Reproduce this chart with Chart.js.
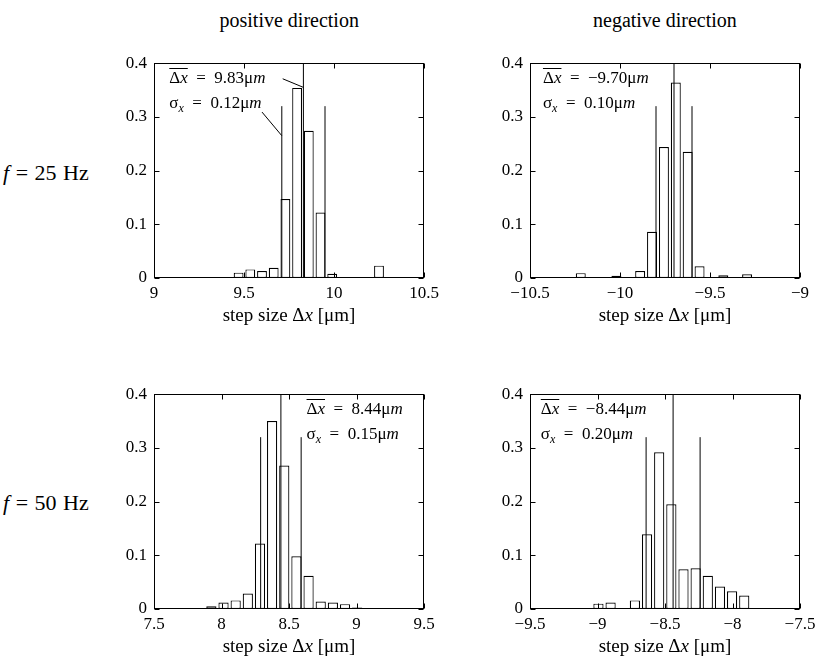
<!DOCTYPE html>
<html><head><meta charset="utf-8">
<script src="https://cdn.jsdelivr.net/npm/chart.js@4/dist/chart.umd.min.js"></script>
<style>
html,body{margin:0;padding:0;background:#fff;}
body{width:816px;height:666px;position:relative;overflow:hidden;font-family:"Liberation Serif",serif;color:#000;}
.lbl{position:absolute;white-space:nowrap;line-height:1;font-family:"Liberation Serif",serif;}
.panel{position:absolute;}
</style></head><body>
<div class="lbl" id="t1" style="font-size:20px;">positive direction</div>
<div class="lbl" id="t2" style="font-size:20px;">negative direction</div>
<div class="lbl" id="r1" style="font-size:22px;word-spacing:1px;"><i>f</i> = 25 Hz</div>
<div class="lbl" id="r2" style="font-size:22px;word-spacing:1px;"><i>f</i> = 50 Hz</div>
<div class="panel" id="p1"><canvas id="c1"></canvas></div>
<div class="panel" id="p2"><canvas id="c2"></canvas></div>
<div class="panel" id="p3"><canvas id="c3"></canvas></div>
<div class="panel" id="p4"><canvas id="c4"></canvas></div>
<script>
// ---------- data ----------
const columnTitles = ['positive direction', 'negative direction'];
const xAxisTitle = 'step size Δx [μm]';
const yTicks = [0, 0.1, 0.2, 0.3, 0.4];

const pos25Bins = [9.405, 9.470, 9.535, 9.600, 9.665, 9.730, 9.795, 9.860, 9.925, 9.990, 10.055, 10.120, 10.185, 10.250];
const pos25Freq = [0.002, 0.010, 0.016, 0.013, 0.019, 0.147, 0.354, 0.274, 0.122, 0.008, 0.001, 0.002, 0.002, 0.023];

const neg25Bins = [-10.218, -10.152, -10.086, -10.020, -9.954, -9.888, -9.822, -9.756, -9.690, -9.624, -9.558, -9.492, -9.426, -9.360, -9.294];
const neg25Freq = [0.009, 0.000, 0.002, 0.004, 0.001, 0.013, 0.086, 0.244, 0.364, 0.235, 0.022, 0.002, 0.005, 0.001, 0.007];

const pos50Bins = [7.745, 7.835, 7.925, 8.015, 8.105, 8.195, 8.285, 8.375, 8.465, 8.555, 8.645, 8.735, 8.825, 8.915, 9.005];
const pos50Freq = [0.001, 0.001, 0.005, 0.012, 0.016, 0.029, 0.122, 0.350, 0.267, 0.098, 0.062, 0.014, 0.012, 0.009, 0.003];

const neg50Bins = [-8.993, -8.903, -8.813, -8.723, -8.633, -8.543, -8.453, -8.363, -8.273, -8.183, -8.093, -8.003, -7.913, -7.823];
const neg50Freq = [0.010, 0.012, 0.000, 0.016, 0.139, 0.292, 0.195, 0.074, 0.076, 0.062, 0.042, 0.033, 0.025, 0.002];

const xRanges = [[9, 10.5], [-10.5, -9], [7.5, 9.5], [-9.5, -7.5]];
const means  = [9.83, -9.70, 8.44, -8.44];
const sigmas = [0.12, 0.10, 0.15, 0.20];
const meanLabels  = ['9.83', '−9.70', '8.44', '−8.44'];
const sigmaLabels = ['0.12', '0.10', '0.15', '0.20'];
const sigmaLineHeight = 0.32;

// ---------- layout ----------
const PW = 270, PH = 220, YW = 45, XH = 62, PT = 12, PR = 25;
const plotPos = [[154, 58], [530, 58], [154, 389], [530, 389]];
const FONT = '"Liberation Serif", serif';

function place(id, left, top) { const e = document.getElementById(id); e.style.left = left + 'px'; e.style.top = top + 'px'; return e; }
(function () {
  const t1 = place('t1', 0, 10), t2 = place('t2', 0, 10);
  t1.style.left = (plotPos[0][0] + PW / 2 - t1.offsetWidth / 2) + 'px';
  t2.style.left = (plotPos[1][0] + PW / 2 - t2.offsetWidth / 2) + 'px';
  place('r1', 3, 162); place('r2', 3, 492);
})();

function fmt(v) {
  const r = Math.round(v * 100) / 100;
  if (r === 0) return '0';
  return (r < 0 ? '−' : '') + String(Math.abs(r));
}

function drawRich(ctx, parts, x, y, size, overlineCount, align) {
  const fontN = size + 'px ' + FONT, fontI = 'italic ' + size + 'px ' + FONT, fontS = 'italic ' + Math.round(size * 0.72) + 'px ' + FONT;
  const widths = parts.map(p => { ctx.font = p.sub ? fontS : (p.i ? fontI : fontN); return ctx.measureText(p.t).width; });
  const total = widths.reduce((a, b) => a + b, 0);
  let cx = align === 'center' ? x - total / 2 : x;
  const start = cx;
  let olEnd = cx;
  ctx.textBaseline = 'middle'; ctx.textAlign = 'left';
  parts.forEach((p, k) => {
    ctx.font = p.sub ? fontS : (p.i ? fontI : fontN);
    ctx.fillText(p.t, cx, p.sub ? y + size * 0.3 : y);
    cx += widths[k];
    if (k < (overlineCount || 0)) olEnd = cx;
  });
  if (overlineCount) {
    ctx.beginPath(); ctx.lineWidth = 1;
    const oy = Math.round(y - size * 0.62) + 0.5;
    ctx.moveTo(start, oy); ctx.lineTo(olEnd, oy); ctx.stroke();
  }
}

const annotCfg = {};

const framePlugin = {
  id: 'frame',
  afterDraw(chart) {
    const { ctx, chartArea: a, scales: { x, y } } = chart;
    ctx.save();
    ctx.strokeStyle = '#000'; ctx.lineWidth = 1;
    const l = Math.round(a.left) + 0.5, r = Math.round(a.right) - 0.5, t = Math.round(a.top) + 0.5, b = Math.round(a.bottom) - 0.5;
    ctx.strokeRect(l, t, r - l, b - t);
    ctx.beginPath();
    x.ticks.forEach(tk => { const px = Math.round(x.getPixelForValue(tk.value)) + 0.5; ctx.moveTo(px, b); ctx.lineTo(px, b - 5); ctx.moveTo(px, t); ctx.lineTo(px, t + 5); });
    y.ticks.forEach(tk => { const py = Math.round(y.getPixelForValue(tk.value)) + 0.5; ctx.moveTo(l, py); ctx.lineTo(l + 5, py); ctx.moveTo(r, py); ctx.lineTo(r - 5, py); });
    ctx.stroke();
    // axis title
    ctx.fillStyle = '#000';
    drawRich(ctx, [{ t: 'step size Δ' }, { t: 'x', i: true }, { t: ' [μm]' }], (a.left + a.right) / 2, a.bottom + 38, 19, 0, 'center');
    ctx.restore();
  }
};

const annotPlugin = {
  id: 'annot',
  afterDatasetsDraw(chart) {
    const cfg = annotCfg[chart.canvas.id];
    if (!cfg) return;
    const { ctx, scales: { x, y } } = chart;
    ctx.save();
    ctx.fillStyle = '#000'; ctx.strokeStyle = '#000'; ctx.lineWidth = 1;
    cfg.texts.forEach(t => drawRich(ctx, t.parts, x.getPixelForValue(t.x), y.getPixelForValue(t.y), 17, t.ol, 'left'));
    cfg.pointers.forEach(p => {
      ctx.beginPath();
      ctx.moveTo(x.getPixelForValue(p[0]), y.getPixelForValue(p[1]));
      ctx.lineTo(x.getPixelForValue(p[2]), y.getPixelForValue(p[3]));
      ctx.stroke();
    });
    ctx.restore();
  }
};

function makePanel(k, bins, freq, textX, pointers) {
  const [L, T] = plotPos[k];
  const cid = 'c' + (k + 1);
  const div = document.getElementById('p' + (k + 1));
  const W = YW + PW + PR, H = PT + PH + XH;
  div.style.left = (L - YW) + 'px'; div.style.top = (T - PT) + 'px';
  div.style.width = W + 'px'; div.style.height = H + 'px';
  const cv = document.getElementById(cid);
  cv.width = W; cv.height = H; cv.style.width = W + 'px'; cv.style.height = H + 'px';

  const m = means[k], s = sigmas[k];
  annotCfg[cid] = {
    texts: [
      { x: textX, y: 0.372, ol: 2, parts: [{ t: 'Δ' }, { t: 'x', i: true }, { t: '  =  ' + meanLabels[k] + 'μ' }, { t: 'm', i: true }] },
      { x: textX, y: 0.324, ol: 0, parts: [{ t: 'σ' }, { t: 'x', i: true, sub: true }, { t: '  =  ' + sigmaLabels[k] + 'μ' }, { t: 'm', i: true }] }
    ],
    pointers: pointers
  };

  const lineStyle = { type: 'line', borderColor: '#000', borderWidth: 1, pointRadius: 0, fill: false, tension: 0, order: 1 };
  new Chart(cv, {
    type: 'bar',
    data: {
      datasets: [
        Object.assign({ label: 'mean', data: [{ x: m, y: 0 }, { x: m, y: 0.4 }] }, lineStyle),
        Object.assign({ label: 'mean - sigma', data: [{ x: m - s, y: 0 }, { x: m - s, y: sigmaLineHeight }] }, lineStyle),
        Object.assign({ label: 'mean + sigma', data: [{ x: m + s, y: 0 }, { x: m + s, y: sigmaLineHeight }] }, lineStyle),
        {
          type: 'bar', label: 'frequency', order: 2,
          data: bins.map((b, i) => ({ x: b, y: freq[i] })),
          backgroundColor: '#fff', borderColor: '#000', borderWidth: 1.2, borderSkipped: false,
          categoryPercentage: 1, barPercentage: 0.84
        }
      ]
    },
    options: {
      responsive: false, animation: false, devicePixelRatio: 1,
      layout: { padding: { left: 0, top: PT, right: PR, bottom: 0 } },
      plugins: { legend: { display: false }, tooltip: { enabled: false } },
      scales: {
        x: {
          type: 'linear', min: xRanges[k][0], max: xRanges[k][1], offset: false,
          grid: { display: false, drawTicks: false, offset: false }, border: { display: false },
          ticks: { stepSize: 0.5, padding: 5, color: '#000', font: { family: FONT, size: 17 }, callback: v => fmt(v), maxRotation: 0, autoSkip: false },
          afterFit: sc => { sc.height = XH; }
        },
        y: {
          min: 0, max: 0.4,
          grid: { display: false, drawTicks: false }, border: { display: false },
          ticks: { stepSize: 0.1, padding: 7, color: '#000', font: { family: FONT, size: 17 }, callback: v => fmt(v) },
          afterFit: sc => { sc.width = YW; }
        }
      }
    },
    plugins: [framePlugin, annotPlugin]
  });
}

makePanel(0, pos25Bins, pos25Freq, 9.085, [[9.715, 0.371, 9.83, 0.355], [9.60, 0.309, 9.71, 0.265]]);
makePanel(1, neg25Bins, neg25Freq, -10.428, []);
makePanel(2, pos50Bins, pos50Freq, 8.63, []);
makePanel(3, neg50Bins, neg50Freq, -9.42, []);
</script>
</body></html>
